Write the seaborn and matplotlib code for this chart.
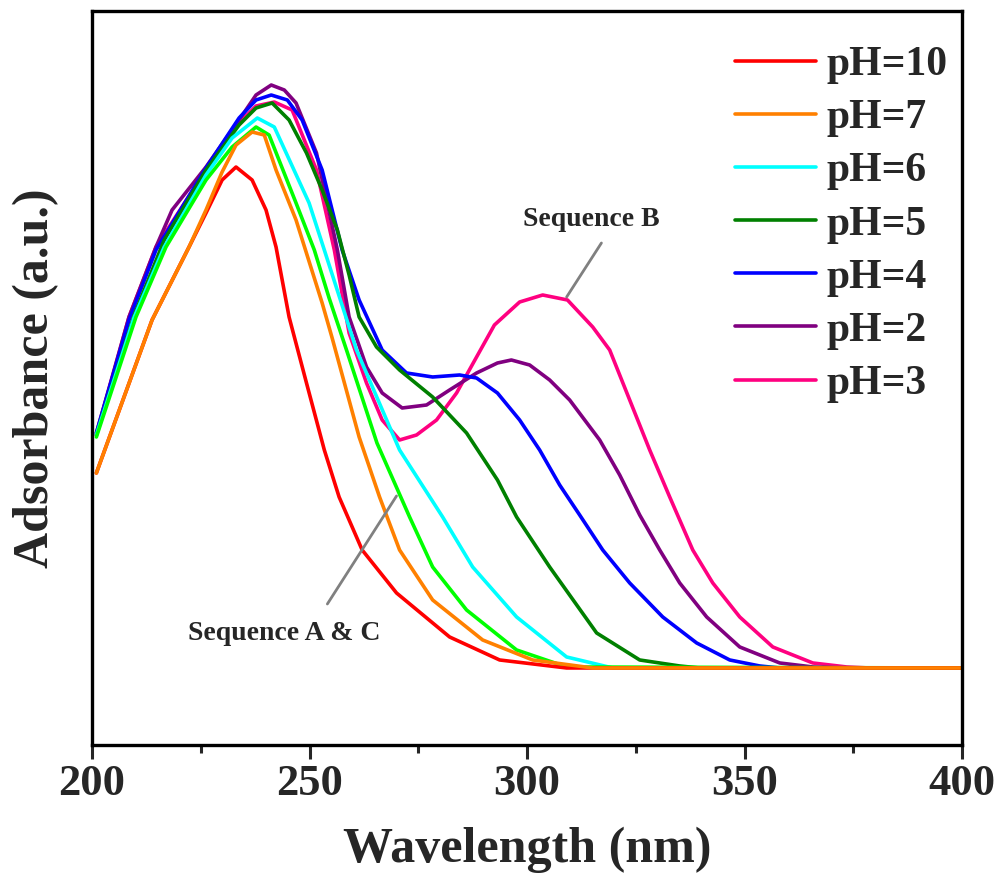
import numpy as np
import pandas as pd
import matplotlib.pyplot as plt
from matplotlib.ticker import MultipleLocator
import seaborn as sns

# 读取的数据 (波长 nm, 吸光度 a.u.)
ph10_x = [201, 213.8, 222.3, 226.2, 229.9, 233.1, 236.8, 240.0, 242.3, 245.3, 249.3, 253.4, 256.8,
          262.1, 270.0, 282.2, 293.7, 309.1, 400]
ph10_y = [1.95, 3.48, 4.21, 4.55, 4.88, 5.01, 4.88, 4.58, 4.21, 3.51, 2.85, 2.18, 1.71,
          1.18, 0.75, 0.31, 0.08, 0.0, 0.0]

ph7_x = [201, 213.8, 222.3, 226.2, 229.9, 233.1, 236.8, 239.6, 242.3, 246.9, 252.9, 255.2, 261.4,
         266.1, 270.7, 278.3, 289.8, 301.3, 315.1, 400]
ph7_y = [1.95, 3.48, 4.21, 4.58, 4.96, 5.23, 5.36, 5.33, 4.98, 4.48, 3.65, 3.30, 2.31,
         1.71, 1.18, 0.68, 0.28, 0.08, 0.0, 0.0]

# 无图例的绿色曲线
lime_x = [201, 210.1, 217.0, 226.2, 232.2, 237.7, 240.7, 246.9, 251.1, 254.5, 258.5, 265.5, 273.0,
          278.3, 286.1, 297.6, 309.1, 400]
lime_y = [2.31, 3.51, 4.21, 4.88, 5.21, 5.41, 5.33, 4.65, 4.18, 3.70, 3.18, 2.25, 1.51,
          1.01, 0.58, 0.18, 0.01, 0.0]

ph6_x = [201, 209.7, 216.6, 226.2, 232.2, 238.0, 241.9, 249.9, 253.4, 260.8, 270.7, 280.6, 287.5,
         297.6, 309.1, 319.7, 400]
ph6_y = [2.33, 3.51, 4.21, 4.93, 5.30, 5.50, 5.41, 4.65, 4.18, 3.18, 2.18, 1.51, 1.01,
         0.51, 0.11, 0.0, 0.0]

ph5_x = [201, 209.7, 216.6, 226.2, 233.8, 237.7, 241.4, 245.3, 249.3, 252.9, 256.4, 259.1, 261.4,
         265.4, 270.7, 278.3, 286.1, 293.2, 297.6, 305.2, 316.0, 325.9, 335.1, 339.7, 400]
ph5_y = [2.33, 3.53, 4.28, 4.98, 5.43, 5.60, 5.65, 5.48, 5.15, 4.78, 4.38, 3.93, 3.51,
         3.21, 2.98, 2.71, 2.35, 1.88, 1.51, 1.01, 0.35, 0.08, 0.02, 0.0, 0.0]

ph4_x = [201, 208.5, 214.7, 226.2, 233.8, 237.7, 241.2, 244.9, 248.3, 252.9, 257.5, 261.4, 266.7,
         272.3, 278.3, 284.5, 288.4, 293.2, 298.3, 302.9, 307.5, 312.1, 317.4, 323.6, 331.2,
         339.0, 346.6, 353.5, 358.1, 400]
ph4_y = [2.35, 3.48, 4.18, 5.00, 5.50, 5.68, 5.73, 5.68, 5.48, 4.98, 4.18, 3.68, 3.18,
         2.95, 2.91, 2.93, 2.90, 2.75, 2.48, 2.18, 1.83, 1.53, 1.18, 0.85, 0.51,
         0.25, 0.08, 0.02, 0.0, 0.0]

ph2_x = [201, 208.5, 214.7, 218.4, 226.2, 233.8, 237.7, 241.2, 244.2, 246.9, 251.6, 256.4, 259.1,
         263.1, 266.7, 271.3, 276.9, 282.2, 288.4, 293.2, 296.4, 300.6, 305.2, 309.8, 316.7,
         321.3, 325.9, 330.5, 335.1, 341.3, 348.9, 358.1, 365.7, 371.9, 400]
ph2_y = [2.35, 3.51, 4.21, 4.58, 5.01, 5.48, 5.73, 5.83, 5.78, 5.65, 5.15, 4.18, 3.51,
         3.01, 2.75, 2.60, 2.63, 2.78, 2.95, 3.05, 3.08, 3.03, 2.88, 2.68, 2.28,
         1.93, 1.53, 1.18, 0.85, 0.51, 0.21, 0.05, 0.01, 0.0, 0.0]

ph3_x = [201, 208.5, 214.7, 226.2, 233.8, 237.7, 241.9, 246.0, 251.6, 255.7, 259.1, 263.1, 266.7,
         270.7, 274.6, 279.2, 283.8, 288.4, 292.5, 298.3, 303.6, 309.3, 315.1, 319.0, 323.6,
         328.2, 332.8, 338.1, 342.7, 348.9, 356.5, 365.7, 373.5, 378.8, 400]
ph3_y = [2.33, 3.51, 4.21, 4.98, 5.45, 5.62, 5.66, 5.58, 4.98, 4.18, 3.35, 2.85, 2.48,
         2.28, 2.33, 2.48, 2.75, 3.11, 3.43, 3.66, 3.73, 3.68, 3.41, 3.18, 2.68,
         2.18, 1.71, 1.18, 0.85, 0.51, 0.21, 0.05, 0.01, 0.0, 0.0]

legend_order = ['pH=10', 'pH=7', 'pH=6', 'pH=5', 'pH=4', 'pH=2', 'pH=3']

sns.set_style('ticks')
plt.rcParams['font.family'] = ['Liberation Serif', 'DejaVu Serif']
plt.rcParams['font.weight'] = 'bold'
plt.rcParams['axes.labelweight'] = 'bold'

fig = plt.figure(figsize=(9.96, 8.81), dpi=100)
ax = fig.add_axes([0.0924, 0.1544, 0.8735, 0.8331])

# 绘制顺序 (橙色在最上面)
curves = [
    ('pH=3', '#ff0080', ph3_x, ph3_y),
    ('pH=2', '#800080', ph2_x, ph2_y),
    ('pH=4', '#0000ff', ph4_x, ph4_y),
    ('pH=5', '#008000', ph5_x, ph5_y),
    ('pH=6', '#00ffff', ph6_x, ph6_y),
    ('_lime', '#00ff00', lime_x, lime_y),
    ('pH=10', '#ff0000', ph10_x, ph10_y),
    ('pH=7', '#ff8000', ph7_x, ph7_y),
]
for label, color, x, y in curves:
    df = pd.DataFrame({'wl': x, 'abs': y})
    sns.lineplot(data=df, x='wl', y='abs', color=color, lw=2.6, label=label,
                 estimator=None, ax=ax, legend=False)

# 标注
ax.plot([309.1, 317.1], [3.71, 4.25], color='#808080', lw=2)
ax.text(314.8, 4.49, 'Sequence B', ha='center', va='center', fontsize=20, fontweight='bold')
ax.plot([254.1, 270.0], [0.64, 1.72], color='#808080', lw=2)
ax.text(244.2, 0.34, 'Sequence A & C', ha='center', va='center', fontsize=20, fontweight='bold')

ax.set_xlim(200, 400)
ax.set_ylim(-0.77, 6.57)
ax.xaxis.set_major_locator(MultipleLocator(50))
ax.xaxis.set_minor_locator(MultipleLocator(25))
ax.set_yticks([])
ax.tick_params(axis='x', which='major', length=10, width=2.2, direction='out', labelsize=32, pad=4)
ax.tick_params(axis='x', which='minor', length=6, width=2.2, direction='out')
for sp in ax.spines.values():
    sp.set_visible(True)
    sp.set_linewidth(2.4)
    sp.set_color('black')

ax.set_xlabel('Wavelength (nm)', fontsize=36, fontweight='bold', labelpad=16)
ax.set_ylabel('Adsorbance (a.u.)', fontsize=36, fontweight='bold', labelpad=24)

handles, labels = ax.get_legend_handles_labels()
lookup = dict(zip(labels, handles))
leg = ax.legend([lookup[l] for l in legend_order], legend_order,
                loc='upper left', bbox_to_anchor=(735 / 996, 1 - 46 / 881),
                bbox_transform=fig.transFigure, frameon=False, fontsize=30,
                handlelength=1.95, handletextpad=0.24, labelspacing=0.36,
                borderpad=0, borderaxespad=0)
for t in leg.get_texts():
    t.set_fontweight('bold')

fig.savefig('out.png', dpi=100)
